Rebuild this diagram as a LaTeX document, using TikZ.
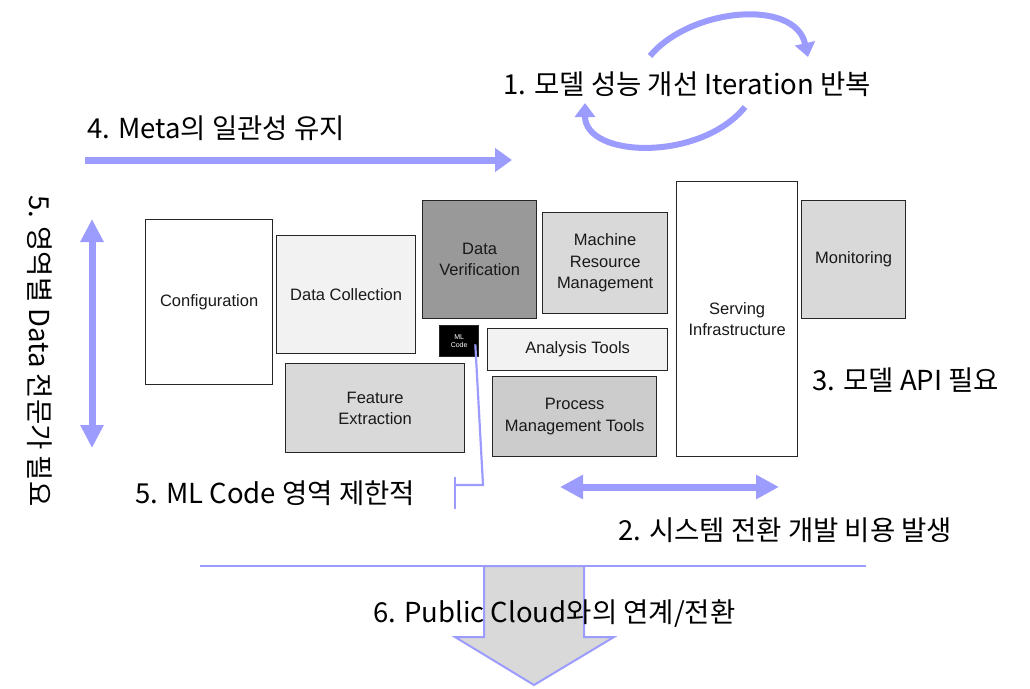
\documentclass[tikz,border=0pt]{standalone}
\usepackage{fontspec}
\setmainfont{Liberation Sans}
\newfontfamily\krfont{Noto Sans CJK KR}
\usetikzlibrary{arrows.meta}
\definecolor{peri}{HTML}{9C9CFF}
\definecolor{dgray}{HTML}{999999}
\definecolor{mgray}{HTML}{D9D9D9}
\definecolor{lgray}{HTML}{F2F2F2}
\definecolor{pgray}{HTML}{CCCCCC}
\begin{document}
\begin{tikzpicture}[x=1pt,y=-1pt,
  box/.style={draw=black!85, line width=1.3pt, anchor=north west, align=center, inner sep=0pt,
     font=\fontsize{16.5}{21.5}\selectfont, text=black!90},
  lbl/.style={anchor=west, inner sep=0pt, font=\krfont\fontsize{27.5}{32}\selectfont},
  thick arrow/.style={draw=peri, line width=7pt},
  arc arrow/.style={draw=peri, line width=6pt, -{Triangle[length=14pt,width=20pt]}}
]
\useasboundingbox (0,0) rectangle (1030,688);
% boxes
\node[box, fill=white, minimum width=127pt, minimum height=165pt] (conf) at (145,219) {Configuration};
\node[box, fill=lgray, minimum width=139pt, minimum height=118pt] (dc) at (276,235) {Data Collection};
\node[box, fill=dgray, minimum width=114pt, minimum height=118pt] (dv) at (422,200) {Data\\Verification};
\node[box, fill=black, minimum width=39pt, minimum height=31pt, font=\fontsize{7}{8.5}\selectfont, text=white] (ml) at (439,325) {ML\\Code};
\node[box, fill=mgray, minimum width=179pt, minimum height=89pt] (fe) at (285,363) {Feature\\Extraction};
\node[box, fill=mgray, minimum width=125pt, minimum height=101pt] (mrm) at (542,212) {Machine\\Resource\\Management};
\node[box, fill=lgray, minimum width=180pt, minimum height=42pt] (at) at (487,328) {Analysis Tools};
\node[box, fill=pgray, minimum width=164pt, minimum height=80pt] (pmt) at (492,376) {Process\\Management Tools};
\node[box, fill=white, minimum width=121pt, minimum height=275pt] (si) at (676,181) {Serving\\Infrastructure};
\node[box, fill=mgray, minimum width=104pt, minimum height=118pt] (mon) at (801,200) {Monitoring};

% bottom big arrow
\coordinate (bl) at (200,566);
\coordinate (br) at (866,566);
\filldraw[fill=mgray, draw=peri, line width=2pt] (484,566) -- (584,566) -- (584,637) -- (614,637) -- (534,685) -- (455,637) -- (484,637) -- cycle;
\draw[peri, line width=2pt] (bl) -- (br);

% labels
\node[lbl] (l1) at (503,84) {1. 모델 성능 개선 Iteration 반복};
\node[lbl] (l4) at (87,128) {4. Meta의 일관성 유지};
\node[lbl] (l3) at (812,380) {3. 모델 API 필요};
\node[lbl] (l5) at (135,493) {5. ML Code 영역 제한적};
\node[lbl] (l2) at (618,530) {2. 시스템 전환 개발 비용 발생};
\node[lbl] (l6) at (373,614) {6. Public Cloud와의 연계/전환};
\node[lbl, anchor=center, rotate=-90] (l5v) at (40,351) {5. 영역별 Data 전문가 필요};

% arrows
\coordinate (a4s) at (85,160);
\coordinate (a4e) at (512,160);
\draw[thick arrow, -{Triangle[length=17pt,width=23pt]}] (a4s) -- (a4e);
\coordinate (avt) at (92,219);
\coordinate (avb) at (92,448);
\draw[thick arrow, {Triangle[length=23pt,width=22pt]}-{Triangle[length=23pt,width=22pt]}] (avt) -- (avb);
\coordinate (a2l) at (560,487);
\coordinate (a2r) at (779,487);
\draw[thick arrow, {Triangle[length=23pt,width=23pt]}-{Triangle[length=23pt,width=23pt]}] (a2l) -- (a2r);

% loop arrows
\coordinate (t1) at (650,56);
\coordinate (t2) at (808,57);
\draw[arc arrow] (t1) .. controls (690,8) and (795,-2) .. (t2);
\coordinate (b1) at (745,107);
\coordinate (b2) at (585,103);
\draw[arc arrow] (b1) .. controls (700,162) and (585,158) .. (b2);

% ML code connector
\coordinate (mlk) at (483,485);
\coordinate (mlt) at (455,485);
\coordinate (mlt1) at (455,477);
\coordinate (mlt2) at (455,509);
\draw[peri, line width=2.2pt] (ml.south east) ++(-4,-13) -- (mlk) -- (mlt);
\draw[peri, line width=2.2pt] (mlt1) -- (mlt2);
\end{tikzpicture}
\end{document}
